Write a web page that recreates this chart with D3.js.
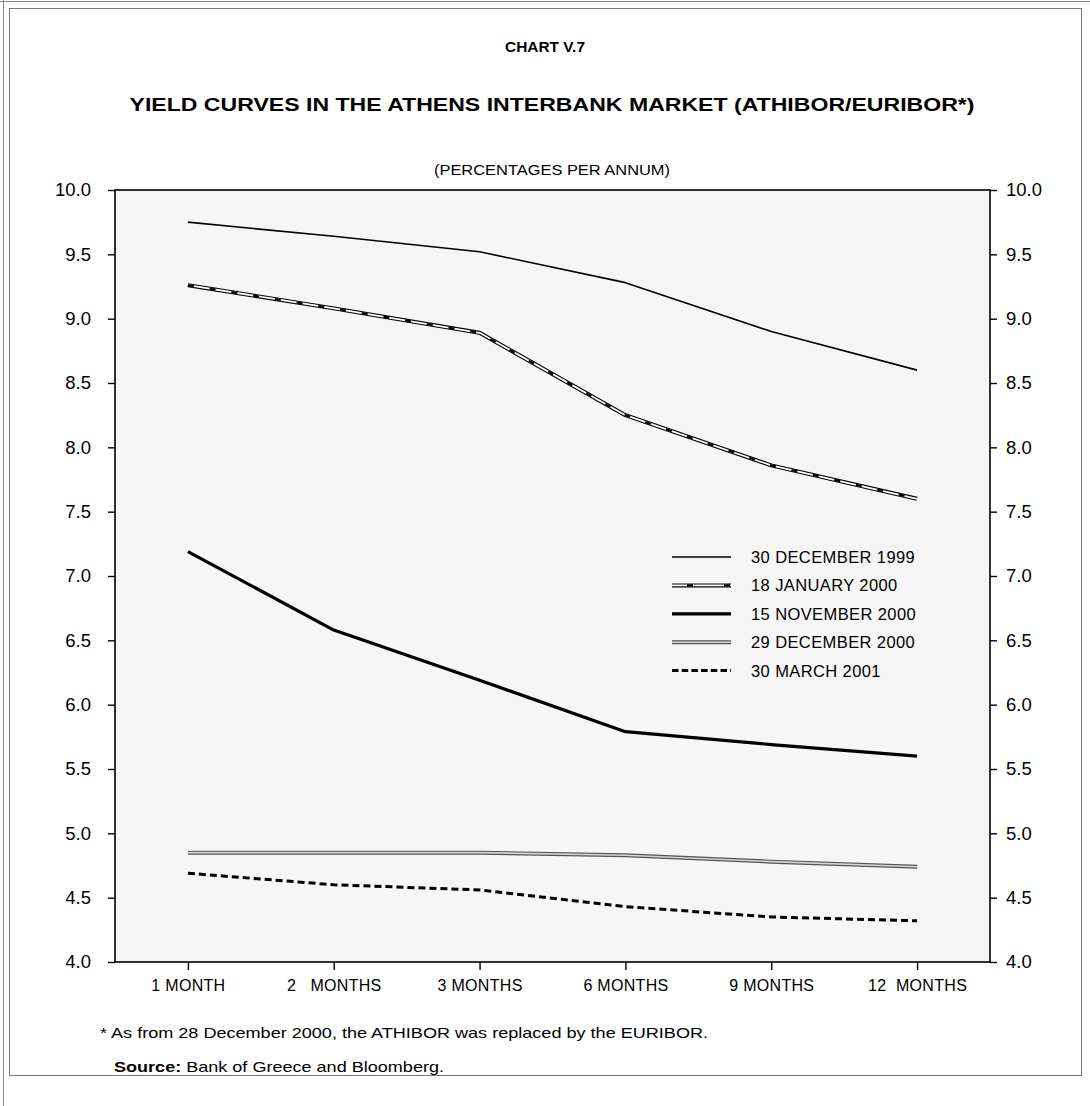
<!DOCTYPE html>
<html>
<head>
<meta charset="utf-8">
<script src="https://cdn.jsdelivr.net/npm/d3@7"></script>
<style>
  html, body { margin: 0; padding: 0; background: #ffffff; }
  svg { display: block; font-family: "Liberation Sans", Arial, Helvetica, sans-serif; }
</style>
</head>
<body>
<svg id="chart" width="1090" height="1106"></svg>
<script>
// Maturities on the horizontal axis
const maturities = ["1 MONTH", "2   MONTHS", "3 MONTHS", "6 MONTHS", "9 MONTHS", "12  MONTHS"];

// Yield curves (percentages per annum)
const dec1999 = [9.75, 9.64, 9.52, 9.28, 8.90, 8.60];
const jan2000 = [9.26, 9.08, 8.89, 8.25, 7.86, 7.60];
const nov2000 = [7.19, 6.58, 6.19, 5.79, 5.69, 5.60];
const dec2000 = [4.85, 4.85, 4.85, 4.83, 4.78, 4.74];
const mar2001 = [4.69, 4.60, 4.56, 4.43, 4.35, 4.32];

const seriesNames = ["30 DECEMBER 1999", "18 JANUARY 2000", "15 NOVEMBER 2000", "29 DECEMBER 2000", "30 MARCH 2001"];
const yTicks = [4.0, 4.5, 5.0, 5.5, 6.0, 6.5, 7.0, 7.5, 8.0, 8.5, 9.0, 9.5, 10.0];

// Stroke layers for each curve (drawn bottom to top)
const styles = [
  [{ stroke: "#000", width: 1.6 }],
  [{ stroke: "#000", width: 4 }, { stroke: "#fff", width: 1.8 }, { stroke: "#000", width: 2.2, dash: "6,16" }],
  [{ stroke: "#000", width: 3.2 }],
  [{ stroke: "#555", width: 4 }, { stroke: "#d4d4d4", width: 1.6 }],
  [{ stroke: "#000", width: 3, dash: "7,4" }]
];

const series = [dec1999, jan2000, nov2000, dec2000, mar2001].map((v, i) => ({
  name: seriesNames[i], values: v, style: styles[i]
}));

const svg = d3.select("#chart");

// page frame
svg.append("line").attr("x1", 0).attr("x2", 1090).attr("y1", 1.5).attr("y2", 1.5)
  .attr("stroke", "#888").attr("stroke-width", 1);
svg.append("line").attr("x1", 3.5).attr("x2", 3.5).attr("y1", 0).attr("y2", 1106)
  .attr("stroke", "#888").attr("stroke-width", 1);
svg.append("rect").attr("x", 9.5).attr("y", 8.5).attr("width", 1072).attr("height", 1067)
  .attr("fill", "none").attr("stroke", "#777").attr("stroke-width", 1);

const plot = { left: 115, right: 990, top: 190, bottom: 962 };

const x = d3.scalePoint().domain(maturities).range([plot.left, plot.right]).padding(0.5);
const y = d3.scaleLinear().domain([4, 10]).range([plot.bottom, plot.top]);

// titles
svg.append("text").attr("x", 545).attr("y", 52).attr("text-anchor", "middle")
  .attr("font-size", 14).attr("font-weight", "bold")
  .attr("textLength", 80).attr("lengthAdjust", "spacingAndGlyphs")
  .text("CHART  V.7");
svg.append("text").attr("x", 552).attr("y", 111).attr("text-anchor", "middle")
  .attr("font-size", 18).attr("font-weight", "bold")
  .attr("textLength", 845).attr("lengthAdjust", "spacingAndGlyphs")
  .text("YIELD CURVES IN THE ATHENS INTERBANK MARKET (ATHIBOR/EURIBOR*)");
svg.append("text").attr("x", 552).attr("y", 175).attr("text-anchor", "middle")
  .attr("font-size", 14)
  .attr("textLength", 236).attr("lengthAdjust", "spacingAndGlyphs")
  .text("(PERCENTAGES PER ANNUM)");

// plot background
svg.append("rect").attr("x", plot.left).attr("y", plot.top)
  .attr("width", plot.right - plot.left).attr("height", plot.bottom - plot.top)
  .attr("fill", "#f6f6f6");

// curves
const line = d3.line().x((d, i) => x(maturities[i])).y(d => y(d));
const curves = svg.append("g");
series.forEach(s => {
  s.style.forEach(st => {
    curves.append("path").datum(s.values).attr("d", line)
      .attr("fill", "none").attr("stroke", st.stroke).attr("stroke-width", st.width)
      .attr("stroke-dasharray", st.dash || null).attr("stroke-linejoin", "round");
  });
});

// plot border
svg.append("rect").attr("x", plot.left).attr("y", plot.top)
  .attr("width", plot.right - plot.left).attr("height", plot.bottom - plot.top)
  .attr("fill", "none").attr("stroke", "#000").attr("stroke-width", 1.6);

// axes
const fmt = d3.format(".1f");
const yLeft = svg.append("g").attr("transform", `translate(${plot.left},0)`)
  .call(d3.axisLeft(y).tickValues(yTicks).tickFormat(fmt).tickSize(7).tickPadding(17));
const yRight = svg.append("g").attr("transform", `translate(${plot.right},0)`)
  .call(d3.axisRight(y).tickValues(yTicks).tickFormat(fmt).tickSize(7).tickPadding(9));
const xAxis = svg.append("g").attr("transform", `translate(0,${plot.bottom})`)
  .call(d3.axisBottom(x).tickSize(8).tickPadding(7));

[yLeft, yRight, xAxis].forEach(g => {
  g.select(".domain").remove();
  g.selectAll(".tick line").attr("stroke", "#000").attr("stroke-width", 1.4);
  g.selectAll(".tick text").attr("fill", "#000").attr("font-family", "Liberation Sans, Arial, sans-serif");
});
[yLeft, yRight].forEach(g => g.selectAll(".tick text").attr("font-size", 18.5));
xAxis.selectAll(".tick text").attr("font-size", 16).attr("letter-spacing", 0.3)
  .style("white-space", "pre").attr("dy", "0.85em");

// legend
const legend = svg.append("g").attr("transform", "translate(672,557)");
series.forEach((s, i) => {
  const row = legend.append("g").attr("transform", `translate(0,${i * 28.4})`);
  s.style.forEach(st => {
    row.append("line").attr("x1", 0).attr("x2", 59).attr("y1", 0).attr("y2", 0)
      .attr("stroke", st.stroke).attr("stroke-width", st.width)
      .attr("stroke-dasharray", st.dash ? (i === 1 ? "0,15,6,16" : "6.5,3.2") : null);
  });
  row.append("text").attr("x", 79).attr("y", 6).attr("font-size", 16.5)
    .attr("letter-spacing", 0.4).text(s.name);
});

// footnotes
svg.append("text").attr("x", 100).attr("y", 1038).attr("font-size", 14.5)
  .attr("textLength", 608).attr("lengthAdjust", "spacingAndGlyphs")
  .text("* As from 28 December 2000, the ATHIBOR was replaced by the EURIBOR.");
const src = svg.append("text").attr("x", 114).attr("y", 1072).attr("font-size", 14.5)
  .attr("textLength", 330).attr("lengthAdjust", "spacingAndGlyphs");
src.append("tspan").attr("font-weight", "bold").text("Source:");
src.append("tspan").text(" Bank of Greece and Bloomberg.");
</script>
</body>
</html>
